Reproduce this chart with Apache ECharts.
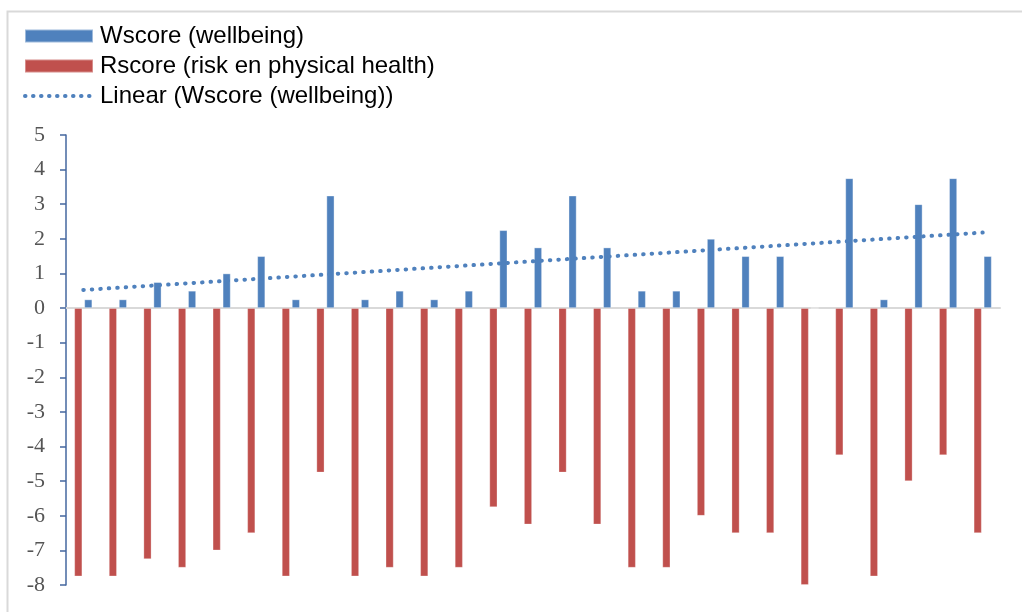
<!DOCTYPE html>
<html>
<head>
<meta charset="utf-8">
<script src="https://cdn.jsdelivr.net/npm/echarts@6/dist/echarts.min.js"></script>
<style>
  html, body { margin: 0; padding: 0; background: #fff; }
  #chart { width: 1022px; height: 612px; }
</style>
</head>
<body>
<div id="chart"></div>
<script>
// Respondent index (27 respondents)
const categories = ['1','2','3','4','5','6','7','8','9','10','11','12','13','14',
  '15','16','17','18','19','20','21','22','23','24','25','26','27'];

// Wellbeing score per respondent
const wscore = [0.25, 0.25, 0.75, 0.5, 1, 1.5, 0.25, 3.25, 0.25, 0.5, 0.25, 0.5, 2.25,
  1.75, 3.25, 1.75, 0.5, 0.5, 2, 1.5, 1.5, 0, 3.75, 0.25, 3, 3.75, 1.5];

// Risk score (physical health) per respondent
const rscore = [-7.75, -7.75, -7.25, -7.5, -7, -6.5, -7.75, -4.75, -7.75, -7.5, -7.75,
  -7.5, -5.75, -6.25, -4.75, -6.25, -7.5, -7.5, -6, -6.5, -6.5, -8, -4.25, -7.75, -5,
  -4.25, -6.5];

const yTicks = { min: -8, max: 5, interval: 1 };

const names = {
  w: 'Wscore (wellbeing)',
  r: 'Rscore (risk en physical health)',
  t: 'Linear (Wscore (wellbeing))'
};

// Least-squares linear trend of the wellbeing score over respondent index
function linearTrend(values) {
  const n = values.length;
  let sx = 0, sy = 0, sxx = 0, sxy = 0;
  values.forEach((y, i) => {
    const x = i + 1;
    sx += x; sy += y; sxx += x * x; sxy += x * y;
  });
  const slope = (n * sxy - sx * sy) / (n * sxx - sx * sx);
  const intercept = (sy - slope * sx) / n;
  return values.map((_, i) => +(intercept + slope * (i + 1)).toFixed(4));
}
const trend = linearTrend(wscore);

const trendStyle = { color: '#4f81bd', width: 4, type: [0.5, 8], cap: 'round' };

const chart = echarts.init(document.getElementById('chart'), null, { renderer: 'canvas' });

chart.setOption({
  animation: false,
  backgroundColor: '#ffffff',
  graphic: [{
    type: 'rect',
    left: 5, top: 9,
    shape: { width: 1040, height: 640 },
    style: { fill: 'none', stroke: '#d9d9d9', lineWidth: 2 },
    z: -10
  }],
  legend: {
    orient: 'vertical',
    left: 23,
    top: 24,
    padding: 0,
    itemWidth: 68,
    itemHeight: 13,
    itemGap: 6,
    data: [
      { name: names.w, icon: 'rect' },
      { name: names.r, icon: 'rect' },
      { name: names.t, itemStyle: { opacity: 0 }, lineStyle: { width: 4, type: [0.5, 7.5], cap: 'round', color: '#4f81bd' } }
    ],
    textStyle: {
      fontFamily: 'Liberation Sans, Arial, sans-serif',
      fontSize: 24,
      color: '#000000',
      padding: [0, 0, 0, 2]
    }
  },
  grid: {
    left: 66,
    right: 22,
    top: 135,
    bottom: 27,
    containLabel: false
  },
  xAxis: {
    type: 'category',
    data: categories,
    axisLine: { onZero: true, lineStyle: { color: '#d9d9d9', width: 2 } },
    axisTick: { show: false },
    axisLabel: { show: false },
    splitLine: { show: false }
  },
  yAxis: {
    type: 'value',
    min: yTicks.min,
    max: yTicks.max,
    interval: yTicks.interval,
    axisLine: { show: true, onZero: false, lineStyle: { color: '#44679f', width: 1.5 } },
    axisTick: { show: true, inside: false, length: 6, lineStyle: { color: '#44679f', width: 1.5 } },
    axisLabel: {
      margin: 21,
      fontFamily: 'Liberation Serif, Times New Roman, serif',
      fontSize: 22,
      color: '#555555'
    },
    splitLine: { show: false }
  },
  series: [
    {
      name: names.r,
      type: 'bar',
      data: rscore,
      barWidth: 8,
      barGap: '25%',
      itemStyle: { color: '#c0504d', borderColor: 'rgba(255,255,255,0.35)', borderWidth: 0.8 },
      z: 2
    },
    {
      name: names.w,
      type: 'bar',
      data: wscore,
      barWidth: 8,
      barGap: '25%',
      itemStyle: { color: '#4f81bd', borderColor: 'rgba(255,255,255,0.45)', borderWidth: 0.8 },
      z: 2
    },
    {
      name: names.t,
      type: 'line',
      data: trend,
      symbol: 'none',
      showSymbol: false,
      lineStyle: trendStyle,
      itemStyle: { color: '#4f81bd' },
      z: 5
    }
  ]
});
</script>
</body>
</html>
